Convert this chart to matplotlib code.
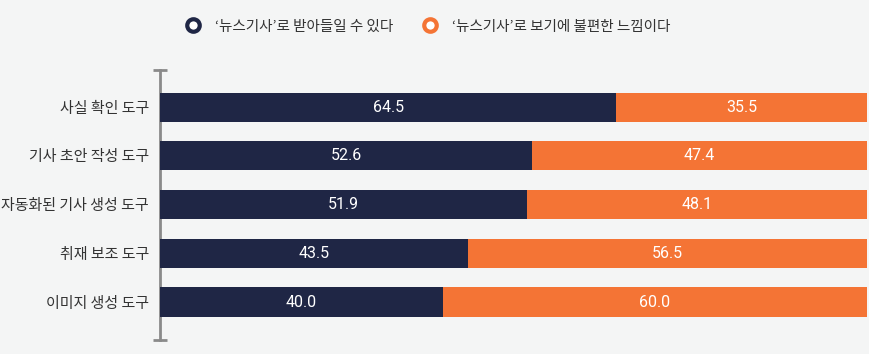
import matplotlib.pyplot as plt
from matplotlib.lines import Line2D

plt.rcParams['font.family'] = ['Noto Sans CJK KR', 'DejaVu Sans']

categories = ['사실 확인 도구', '기사 초안 작성 도구', '자동화된 기사 생성 도구', '취재 보조 도구', '이미지 생성 도구']
accept = [64.5, 52.6, 51.9, 43.5, 40.0]
uneasy = [35.5, 47.4, 48.1, 56.5, 60.0]
series_labels = ["‘뉴스기사’로 받아들일 수 있다", "‘뉴스기사’로 보기에 불편한 느낌이다"]

navy = '#1f2645'
orange = '#f47435'
bg = '#f4f5f5'

fig = plt.figure(figsize=(8.7, 3.54), dpi=100, facecolor=bg)
ax = fig.add_axes([0.184, 0.0395, 0.8126, 0.7625], facecolor=bg)

y = list(range(len(categories)))
ax.barh(y, accept, height=0.6, color=navy)
ax.barh(y, uneasy, left=accept, height=0.6, color=orange)

for i in y:
    ax.text(accept[i] / 2, i, f'{accept[i]:.1f}', ha='center', va='center',
            color='white', fontsize=11.5, family=['Roboto', 'DejaVu Sans'])
    ax.text(accept[i] + uneasy[i] / 2, i, f'{uneasy[i]:.1f}', ha='center', va='center',
            color='white', fontsize=11.5, family=['Roboto', 'DejaVu Sans'])

ax.set_xlim(0, 100)
ax.set_ylim(4.78, -0.76)
ax.set_yticks(y)
ax.set_yticklabels(categories, fontsize=10.8, color='#333333')
ax.tick_params(axis='y', length=0, pad=8)
ax.set_xticks([])
for s in ['top', 'right', 'bottom', 'left']:
    ax.spines[s].set_visible(False)

# vertical axis line with end caps
ax.plot([0, 0], [0, 1], transform=ax.transAxes, color='#8a8a8a', lw=2,
        marker='_', markersize=10, markeredgewidth=2, clip_on=False, zorder=0)

handles = [
    Line2D([], [], ls='none', marker='o', markersize=9, markerfacecolor='white',
           markeredgecolor=navy, markeredgewidth=3),
    Line2D([], [], ls='none', marker='o', markersize=9, markerfacecolor='white',
           markeredgecolor=orange, markeredgewidth=3),
]
fig.legend(handles, series_labels, loc='center', bbox_to_anchor=(0.488, 0.925), ncol=2,
           frameon=False, fontsize=10.5, columnspacing=1.5, handletextpad=0.5,
           labelcolor='#333333')

fig.savefig('out.png', dpi=100, facecolor=bg)
